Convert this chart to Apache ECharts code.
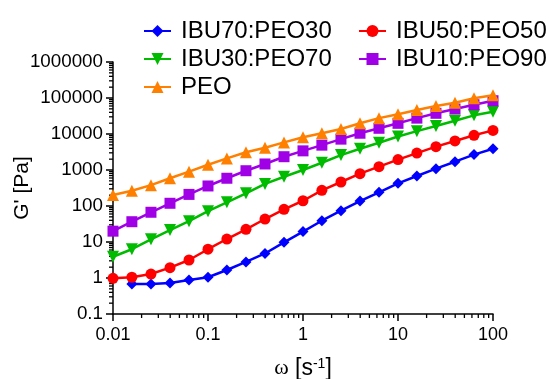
<!DOCTYPE html>
<html>
<head>
<meta charset="utf-8">
<script src="https://cdn.jsdelivr.net/npm/echarts@6/dist/echarts.min.js"></script>
<style>html,body{margin:0;padding:0;background:#fff}#c{width:549px;height:379px}</style>
</head>
<body>
<div id="c"></div>
<script>
// angular frequency values (s^-1)
var omega = [0.01, 0.0158, 0.0251, 0.0398, 0.0631, 0.1, 0.158, 0.251, 0.398, 0.631, 1, 1.58, 2.51, 3.98, 6.31, 10, 15.8, 25.1, 39.8, 63.1, 100];
var seriesNames = ['IBU70:PEO30', 'IBU50:PEO50', 'IBU30:PEO70', 'IBU10:PEO90', 'PEO'];
var ibu70 = [null, 0.68, 0.68, 0.73, 0.88, 1.05, 1.67, 2.8, 4.8, 9.8, 19.5, 39, 74, 137, 240, 427, 680, 1090, 1700, 2680, 3900];
var ibu50 = [0.98, 1.05, 1.29, 1.94, 3.16, 6.3, 12.1, 22.5, 43.5, 81, 140, 273, 464, 790, 1240, 1950, 2950, 4450, 6400, 9200, 12600];
var ibu30 = [3.9, 6.3, 11.9, 21.5, 38, 72, 127, 225, 410, 650, 1000, 1590, 2600, 3900, 5700, 8500, 12000, 16600, 23400, 33000, 41500];
var ibu10 = [20, 36.6, 67, 119, 210, 360, 590, 955, 1470, 2340, 3400, 4900, 7200, 10500, 14400, 19800, 27600, 37600, 49500, 65000, 84000];
var peo = [202, 266, 380, 590, 900, 1400, 2100, 3100, 4170, 5850, 8100, 10500, 13800, 19800, 27600, 35300, 46400, 60000, 73500, 98000, 120000];
var xTickLabels = ['0.01', '0.1', '1', '10', '100'];
var yTickLabels = ['0.1', '1', '10', '100', '1000', '10000', '100000', '1000000'];
var xMinorTicks = [0.02,0.03,0.04,0.05,0.06,0.07,0.08,0.09,0.2,0.3,0.4,0.5,0.6,0.7,0.8,0.9,2,3,4,5,6,7,8,9,20,30,40,50,60,70,80,90];
var yMinorTicks = [0.2,0.3,0.4,0.5,0.6,0.7,0.8,0.9,2,3,4,5,6,7,8,9,20,30,40,50,60,70,80,90,200,300,400,500,600,700,800,900,2000,3000,4000,5000,6000,7000,8000,9000,20000,30000,40000,50000,60000,70000,80000,90000,200000,300000,400000,500000,600000,700000,800000,900000];

var colors = ['#0000ff', '#ff0000', '#00bb00', '#a000e6', '#ff8000'];
var symbols = ['diamond', 'circle', 'triangle', 'rect', 'triangle'];
var rotates = [0, 0, 180, 0, 0];
var sizes = [11, 11, 12, 11, 12];
var values = [ibu70, ibu50, ibu30, ibu10, peo];

function pairs(arr) {
  var out = [];
  for (var i = 0; i < omega.length; i++) if (arr[i] != null) out.push([omega[i], arr[i]]);
  return out;
}
function labelFor(list, minExp) {
  return function (v) {
    var i = Math.round(Math.log10(v)) - minExp;
    return list[i] !== undefined ? list[i] : '';
  };
}
var FONT = '"Liberation Sans", Arial, sans-serif';

var series = [];
for (var s = 0; s < 5; s++) {
  series.push({
    name: seriesNames[s], type: 'line', data: pairs(values[s]),
    symbol: symbols[s], symbolRotate: rotates[s], symbolSize: sizes[s],
    showAllSymbol: true,
    lineStyle: { color: colors[s], width: 2.5 },
    itemStyle: { color: colors[s] },
    emphasis: { disabled: true }, z: 3 + s
  });
}
series.push({
  type: 'custom', silent: true, clip: false, z: 1,
  data: xMinorTicks.map(function (v) { return [v, 0.1]; }),
  renderItem: function (params, api) {
    var p = api.coord([api.value(0), api.value(1)]);
    return { type: 'line', shape: { x1: p[0], y1: p[1], x2: p[0], y2: p[1] + 4 }, style: { stroke: '#000', lineWidth: 1.3 } };
  }
});
series.push({
  type: 'custom', silent: true, clip: false, z: 1,
  data: yMinorTicks.map(function (v) { return [0.01, v]; }),
  renderItem: function (params, api) {
    var p = api.coord([api.value(0), api.value(1)]);
    return { type: 'line', shape: { x1: p[0], y1: p[1], x2: p[0] - 4, y2: p[1] }, style: { stroke: '#000', lineWidth: 1.3 } };
  }
});

var legendText = { fontFamily: FONT, fontSize: 24, color: '#000', lineHeight: 24, padding: [0, 0, 0, 5] };
var option = {
  animation: false,
  backgroundColor: '#fff',
  grid: { left: 113, right: 56, top: 62, bottom: 65, containLabel: false, outerBoundsMode: 'none' },
  legend: [
    { data: [seriesNames[0], seriesNames[2], seriesNames[4]], orient: 'vertical', left: 138, top: 14,
      itemWidth: 27, itemHeight: 15, itemGap: 4, textStyle: legendText, selectedMode: false },
    { data: [seriesNames[1], seriesNames[3]], orient: 'vertical', left: 353, top: 14,
      itemWidth: 27, itemHeight: 15, itemGap: 4, textStyle: legendText, selectedMode: false }
  ],
  xAxis: {
    type: 'log', logBase: 10, min: 0.01, max: 100, interval: 1,
    name: '{w|\u03c9} [s{sup|-1}]', nameLocation: 'middle', nameGap: 43, nameMoveOverlap: false,
    nameTextStyle: {
      fontFamily: FONT, fontSize: 23, color: '#000',
      rich: {
        w: { fontFamily: '"Liberation Serif", "Times New Roman", serif', fontSize: 22, color: '#000' },
        sup: { fontFamily: FONT, fontSize: 14, color: '#000', verticalAlign: 'top', padding: [0, 0, 9, 0] }
      }
    },
    axisLine: { lineStyle: { color: '#000', width: 1.5 } },
    axisTick: { show: true, length: 7, inside: false, lineStyle: { color: '#000', width: 1.5 } },
    axisLabel: { fontFamily: FONT, fontSize: 18, color: '#000', margin: 12, formatter: labelFor(xTickLabels, -2) },
    splitLine: { show: false }
  },
  yAxis: {
    type: 'log', logBase: 10, min: 0.1, max: 1000000, interval: 1,
    name: "G' [Pa]", nameLocation: 'middle', nameGap: 80, nameRotate: 90, nameMoveOverlap: false,
    nameTextStyle: { fontFamily: FONT, fontSize: 21, color: '#000' },
    axisLine: { lineStyle: { color: '#000', width: 1.5 } },
    axisTick: { show: true, length: 7, inside: false, lineStyle: { color: '#000', width: 1.5 } },
    axisLabel: { fontFamily: FONT, fontSize: 18.8, color: '#000', margin: 10, formatter: labelFor(yTickLabels, -1) },
    splitLine: { show: false }
  },
  series: series
};
var chart = echarts.init(document.getElementById('c'), null, { renderer: 'canvas' });
chart.setOption(option);
</script>
</body>
</html>
